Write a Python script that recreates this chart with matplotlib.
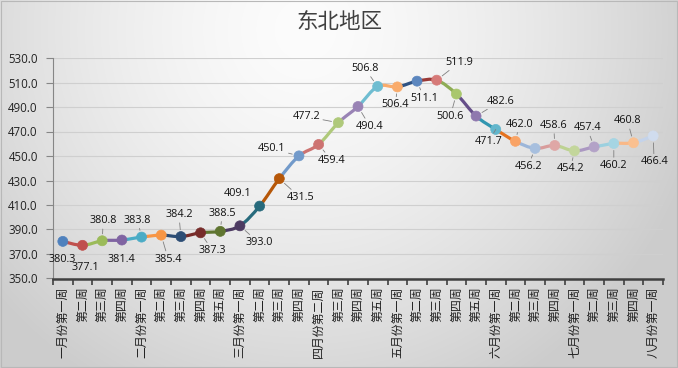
import numpy as np
import matplotlib
matplotlib.use('Agg')
import matplotlib.pyplot as plt
from matplotlib.path import Path
from matplotlib.patches import PathPatch, Rectangle

plt.rcParams['font.family'] = ['Open Sans', 'Noto Sans CJK SC', 'DejaVu Sans']

# --- data ---
weeks = ['一月份第一周', '第二周', '第三周', '第四周',
         '二月份第一周', '第二周', '第三周', '第四周', '第五周',
         '三月份第一周', '第二周', '第三周', '第四周',
         '四月份第二周', '第三周', '第四周', '第五周',
         '五月份第一周', '第二周', '第三周', '第四周', '第五周',
         '六月份第一周', '第二周', '第三周', '第四周',
         '七月份第一周', '第二周', '第三周', '第四周',
         '八月份第一周']
values = [380.3, 377.1, 380.8, 381.4, 383.8, 385.4, 384.2, 387.3, 388.5, 393.0,
          409.1, 431.5, 450.1, 459.4, 477.2, 490.4, 506.8, 506.4, 511.1, 511.9,
          500.6, 482.6, 471.7, 462.0, 456.2, 458.6, 454.2, 457.4, 460.2, 460.8, 466.4]
yticks = [350, 370, 390, 410, 430, 450, 470, 490, 510, 530]

# --- style (Excel "vary colors by point") ---
marker_colors = ['#4F81BD', '#C0504D', '#9BBB59', '#8064A2', '#4BACC6', '#F79646',
                 '#2C4D75', '#772C2A', '#5F7530', '#4D3B62', '#276A7C', '#B65708',
                 '#729ACA', '#CD7371', '#AFC97A', '#9983B5', '#6FBDD1', '#F9AB6B',
                 '#5B86BE', '#D67A78', '#A9C76D', '#8F78AE', '#62B6CC', '#F9A365',
                 '#A7BFDE', '#DFA7A6', '#C3D69B', '#B3A2C7', '#A5D5E3', '#FAC090', '#D0DCEE']
seg_colors = marker_colors[:18] + ['#2E5283', '#9A3936', '#8EAC55', '#654E89', '#3196B0', '#E57320',
                                   '#9CB6D9', '#D89C9B', '#BDD292', '#AB98C2', '#9BD0DF', '#F9B887', '#C4D3EA']
# label offsets in pixels (dx, dy) and which labels have no leader line
label_offsets = [(-1, -18), (3, -22), (1, 20), (0, -19), (-4, 17), (7, -24), (-2, 22), (12, -18),
                 (2, 18), (19, -17), (-22, 13), (21, -19), (-27, 7), (13, -16), (-32, 6), (12, -20),
                 (-13, 18), (-2, -18), (7, -17), (23, 18), (-6, -22), (25, 15), (-7, -12), (4, 17),
                 (-7, -18), (-1, 20), (-4, -18), (-7, 19), (0, -22), (-6, 22), (1, -26)]
no_leader = {0, 1, 3, 10}

fig = plt.figure(figsize=(6.78, 3.68), dpi=100)

# background gradient
bg = fig.add_axes([0, 0, 1, 1], zorder=-10)
H, W = 368, 678
yy, xx = np.mgrid[0:H, 0:W]
r = np.sqrt(((xx - 0.45 * W) / (0.62 * W)) ** 2 + ((yy - 0.08 * H) / (1.15 * H)) ** 2)
v = np.clip(252 - 50 * r ** 1.5, 204, 252) / 255.0
bg.imshow(np.dstack([v, v, v]), aspect='auto', extent=[0, 1, 0, 1], origin='upper')
bg.set_xlim(0, 1)
bg.set_ylim(0, 1)
bg.axis('off')
bg.add_patch(Rectangle((0.001, 0.002), 0.997, 0.995, fill=False, ec='#b8b8b8', lw=0.8))

ax = fig.add_axes([53 / 678, (368 - 278.5) / 368, 610 / 678, 220.5 / 368], zorder=1)
ax.set_facecolor('none')
x = np.arange(len(values))
y = np.array(values)
ax.set_xlim(-0.5, len(values) - 0.5)
ax.set_ylim(350, 530)

# smoothed segments (Bezier, Catmull-Rom style control points)
n = len(values)
for i in range(n - 1):
    p0 = np.array([x[max(i - 1, 0)], y[max(i - 1, 0)]])
    p1 = np.array([x[i], y[i]])
    p2 = np.array([x[i + 1], y[i + 1]])
    p3 = np.array([x[min(i + 2, n - 1)], y[min(i + 2, n - 1)]])
    c1 = p1 + (p2 - p0) / 6.0
    c2 = p2 - (p3 - p1) / 6.0
    path = Path([p1, c1, c2, p2], [Path.MOVETO, Path.CURVE4, Path.CURVE4, Path.CURVE4])
    ax.add_patch(PathPatch(path, fc='none', ec=seg_colors[i + 1], lw=2.3,
                           capstyle='round', zorder=3))

ax.scatter(x, y, s=52, c=marker_colors, edgecolors=marker_colors, linewidths=0.5, zorder=4)

for i, val in enumerate(values):
    dx, dy = label_offsets[i]
    arrow = None
    if i not in no_leader:
        arrow = dict(arrowstyle='-', color='#7f7f7f', lw=0.6, shrinkA=0, shrinkB=5)
    ax.annotate(f'{val:.1f}', (x[i], y[i]), xytext=(dx, dy), textcoords='offset pixels',
                ha='center', va='center', fontsize=7.8, color='#111111',
                arrowprops=arrow, zorder=5)

ax.set_yticks(yticks)
ax.set_yticklabels([f'{t:.1f}' for t in yticks], fontsize=8.3, color='#222222')
ax.yaxis.grid(True, color='#cfcfcf', lw=0.8)
ax.set_axisbelow(True)
ax.tick_params(axis='y', length=5, color='#868686', pad=6)

ax.set_xticks(x)
ax.set_xticklabels(weeks, rotation=90, fontsize=8.6, color='#222222',
                   family=['Noto Sans CJK SC', 'DejaVu Sans'], va='top')
ax.set_xticks(np.arange(-0.5, len(values), 1.0), minor=True)
ax.tick_params(axis='x', which='major', length=0, pad=6)
ax.tick_params(axis='x', which='minor', length=4, width=1.2, color='#404040')

for side in ['top', 'right']:
    ax.spines[side].set_visible(False)
ax.spines['left'].set_color('#868686')
ax.spines['left'].set_linewidth(0.8)
ax.spines['bottom'].set_color('#404040')
ax.spines['bottom'].set_linewidth(1.8)

fig.text(0.5, 1 - 22 / 368, '东北地区', ha='center', va='center', fontsize=15.5,
         color='#404040', family=['Noto Sans CJK SC', 'DejaVu Sans'])

fig.savefig('out.png', dpi=100)
